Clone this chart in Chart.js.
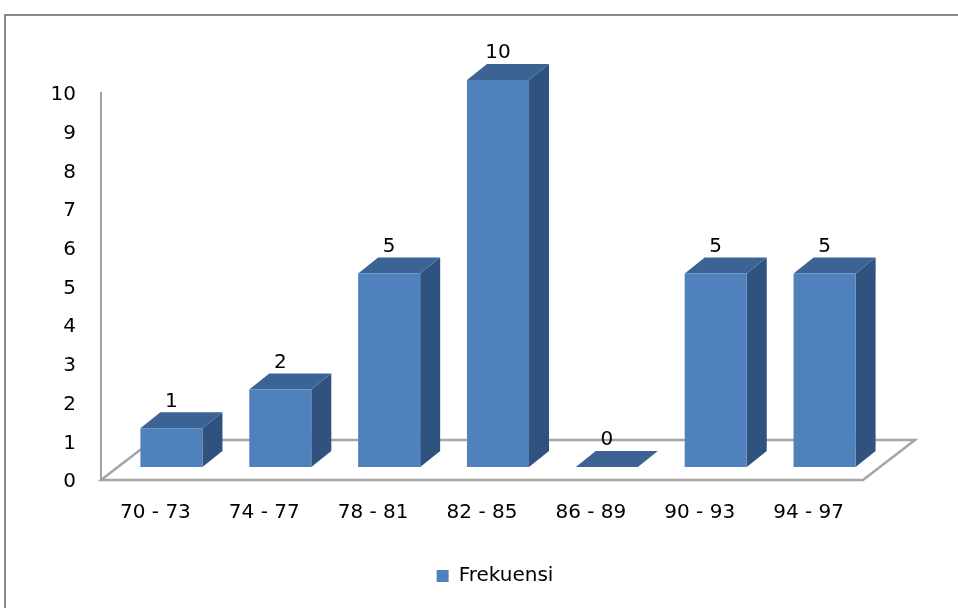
<!DOCTYPE html>
<html lang="id">
<head>
    <meta charset="UTF-8">
    <title>Frekuensi</title>
    <script src="https://cdn.jsdelivr.net/npm/chart.js"></script>
    <style>
        body {
            margin: 0;
            padding: 0;
            background: #fff;
            overflow: hidden;
        }
        .frame {
            position: absolute;
            left: 4px;
            top: 14px;
            width: 1400px;
            height: 1000px;
            border-left: 2px solid #8a8a8a;
            border-top: 2px solid #8a8a8a;
        }
        .chart-box {
            position: absolute;
            left: 0;
            top: 0;
            width: 958px;
            height: 608px;
        }
    </style>
</head>
<body>
    <div class="frame"></div>
    <div class="chart-box">
        <canvas id="chart" width="958" height="608"></canvas>
    </div>
<script>
const categories = ["70 - 73", "74 - 77", "78 - 81", "82 - 85", "86 - 89", "90 - 93", "94 - 97"];
const frekuensi = [1, 2, 5, 10, 0, 5, 5];
const yMin = 0;
const yMax = 10;
const yStep = 1;

const FONT = "DejaVu Sans";
const FONT_SIZE = 20;
const FRONT = "#4f81bd";
const TOP = "#3b6495";
const SIDE = "#30527f";

// fake 3d: bars sit a bit back on the floor, and have some depth
const SHIFT_X = 16, SHIFT_Y = -13;
const DEPTH_X = 20, DEPTH_Y = -16;
const FLOOR_X = 52, FLOOR_Y = -40;

const box3d = {
    id: "box3d",
    afterLayout(chart) {
        // legend sits a little right of the middle in the original
        const lg = chart.legend;
        const d = 495 - (lg.left + lg.right) / 2;
        lg.left += d;
        lg.right += d;
    },
    beforeDatasetsDraw(chart) {
        const ctx = chart.ctx;
        const a = chart.chartArea;
        ctx.save();
        ctx.beginPath();
        ctx.moveTo(a.left, a.bottom);
        ctx.lineTo(a.right, a.bottom);
        ctx.lineTo(a.right + FLOOR_X, a.bottom + FLOOR_Y);
        ctx.lineTo(a.left + FLOOR_X, a.bottom + FLOOR_Y);
        ctx.closePath();
        ctx.fillStyle = "#fff";
        ctx.fill();
        ctx.strokeStyle = "#a6a6a6";
        ctx.lineWidth = 2.5;
        ctx.stroke();
        ctx.restore();
    },
    beforeDatasetDraw(chart, args) {
        const ctx = chart.ctx;
        ctx.save();
        ctx.translate(SHIFT_X, SHIFT_Y);
        args.meta.data.forEach(bar => {
            const p = bar.getProps(["x", "y", "base", "width"], true);
            const l = p.x - p.width / 2;
            const r = p.x + p.width / 2;
            // side face
            ctx.fillStyle = SIDE;
            ctx.beginPath();
            ctx.moveTo(r, p.y);
            ctx.lineTo(r + DEPTH_X, p.y + DEPTH_Y);
            ctx.lineTo(r + DEPTH_X, p.base + DEPTH_Y);
            ctx.lineTo(r, p.base);
            ctx.closePath();
            ctx.fill();
            // top face
            ctx.fillStyle = TOP;
            ctx.beginPath();
            ctx.moveTo(l, p.y);
            ctx.lineTo(r, p.y);
            ctx.lineTo(r + DEPTH_X, p.y + DEPTH_Y);
            ctx.lineTo(l + DEPTH_X, p.y + DEPTH_Y);
            ctx.closePath();
            ctx.fill();
        });
    },
    afterDatasetDraw(chart) {
        chart.ctx.restore();
    },
    afterDatasetsDraw(chart) {
        const ctx = chart.ctx;
        const meta = chart.getDatasetMeta(0);
        ctx.save();
        ctx.fillStyle = "#000";
        ctx.font = FONT_SIZE + "px '" + FONT + "'";
        ctx.textAlign = "center";
        ctx.textBaseline = "middle";
        meta.data.forEach((bar, i) => {
            const p = bar.getProps(["x", "y"], true);
            ctx.fillText(String(frekuensi[i]), p.x + SHIFT_X, p.y + SHIFT_Y + DEPTH_Y - 11);
        });
        ctx.restore();
    }
};

new Chart(document.getElementById("chart"), {
    type: "bar",
    data: {
        labels: categories,
        datasets: [{
            label: "Frekuensi",
            data: frekuensi,
            backgroundColor: FRONT,
            borderWidth: 0,
            categoryPercentage: 1,
            barPercentage: 0.57,
            clip: false
        }]
    },
    options: {
        responsive: false,
        animation: false,
        events: [],
        layout: {
            padding: { left: 0, right: 95, top: 93, bottom: 12 }
        },
        scales: {
            x: {
                grid: { display: false, drawTicks: false },
                border: { display: false },
                ticks: {
                    color: "#000",
                    font: { family: FONT, size: FONT_SIZE },
                    padding: 21,
                    maxRotation: 0,
                    autoSkip: false
                },
                afterFit: s => { s.height = 76; }
            },
            y: {
                min: yMin,
                max: yMax,
                grid: { display: false, drawTicks: false },
                border: { display: true, color: "#a0a0a0", width: 2 },
                ticks: {
                    stepSize: yStep,
                    color: "#000",
                    font: { family: FONT, size: FONT_SIZE },
                    padding: 25,
                    labelOffset: 2
                },
                afterFit: s => { s.width = 101; }
            }
        },
        plugins: {
            legend: {
                position: "bottom",
                fullSize: false,
                labels: {
                    boxWidth: 12,
                    boxHeight: 12,
                    padding: 10,
                    color: "#000",
                    font: { family: FONT, size: FONT_SIZE }
                }
            },
            tooltip: { enabled: false }
        }
    },
    plugins: [box3d]
});
</script>
</body>
</html>
